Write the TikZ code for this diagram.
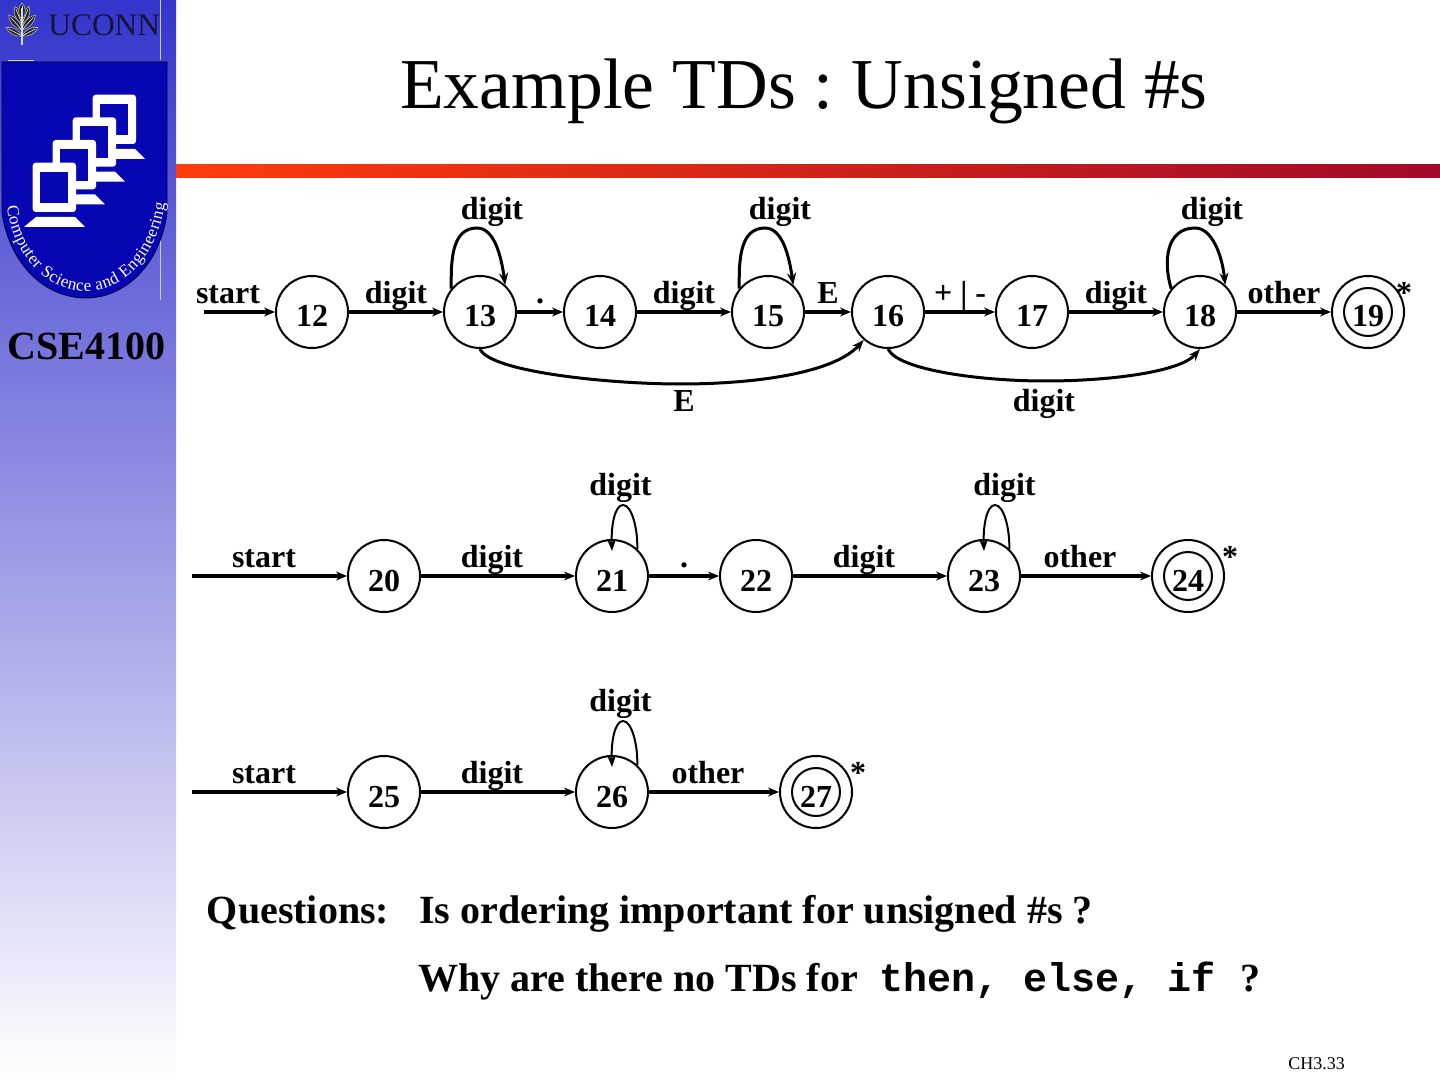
\documentclass[tikz,border=0pt]{standalone}
\usepackage{fontspec}
\setmainfont{Liberation Serif}
\setmonofont{Liberation Mono}
\usetikzlibrary{arrows.meta,decorations.text}
\definecolor{sidetop}{RGB}{52,52,204}
\definecolor{shieldblue}{RGB}{6,6,178}
\definecolor{barleft}{RGB}{255,60,12}
\definecolor{barright}{RGB}{160,10,40}
\definecolor{uconn}{RGB}{20,20,55}
\tikzset{
  x=.5pt,y=-.5pt,
  state/.style={circle,draw=black,line width=1pt,minimum size=36pt,inner sep=0pt,fill=white,
    font=\fontsize{16}{16}\selectfont\bfseries,text height=15pt,text depth=0pt},
  innerring/.style={circle,draw=black,line width=1pt,minimum size=24pt,inner sep=0pt},
  lab/.style={anchor=base,inner sep=0pt,font=\fontsize{16}{16}\selectfont\bfseries},
  trans/.style={line width=1.75pt,-{Stealth[length=5.5pt,width=4.5pt]}},
  curved/.style={line width=1.5pt,-{Stealth[length=6pt,width=4.5pt]}},
  thinloop/.style={line width=1pt,-{Stealth[length=6pt,width=4.5pt]}},
  para/.style={anchor=base west,inner sep=0pt,font=\fontsize{20}{20}\selectfont\bfseries},
  monoutline/.style={fill=white,rounded corners=1.5pt},
  monscreen/.style={fill=shieldblue},
  leaf/.style={fill=black!85,draw=white!70!black,line width=.3pt},
}
\newcommand{\monitorshape}[2]{%
  \begin{scope}[shift={(#1,#2)}]
    \fill[white] (36,217) -- (75,217) -- (85,227) -- (24,227) -- cycle;
    \fill[monoutline] (32.7,162.7) rectangle (76,212);
    \fill[monscreen] (40,171.7) rectangle (68.3,203.3);
  \end{scope}}
\newcommand{\leafshape}[4]{% base y, angle, length, half width
  \begin{scope}[shift={(22,#1)},rotate=#2]
    \draw[leaf] (0,0) .. controls (-#4,-.3*#3) and (-#4,-.75*#3) .. (0,-#3) .. controls (#4,-.75*#3) and (#4,-.3*#3) .. (0,0);
    \draw[white!85!black,line width=.35pt] (0,0) -- (0,-.85*#3);
  \end{scope}}
\begin{document}
\begin{tikzpicture}
\useasboundingbox (0,0) rectangle (1440,1080);
\fill[white] (0,0) rectangle (1440,1080);
% sidebar
\shade[top color=sidetop,bottom color=white] (0,0) rectangle (176,1080);
% bar
\shade[left color=barleft,right color=barright] (176,165) rectangle (1440,178);
% thin lines beside the logo
\draw[white!75!sidetop,line width=.4pt] (160.5,0) -- (160.5,60) (160.5,210) -- (160.5,300) (8,60.5) -- (34,60.5);
% emblem
\leafshape{36}{62}{18}{4}
\leafshape{36}{-62}{18}{4}
\leafshape{30}{42}{20}{4.5}
\leafshape{30}{-42}{20}{4.5}
\leafshape{24}{22}{19}{4.5}
\leafshape{24}{-22}{19}{4.5}
\leafshape{20}{0}{17}{4.5}
\draw[white!85!black,line width=.6pt] (22,8) -- (22,45);
\node[anchor=base west,inner sep=0pt,text=uconn,font=\fontsize{15.7}{16}\selectfont] (uconntext) at (48,36) {UCONN};
% shield
\fill[shieldblue] (2,62) -- (167,62) -- (167,213) .. controls (160,265) and (125,298) .. (86,298) .. controls (45,298) and (10,265) .. (2,213) -- cycle;
\draw[black!70!shieldblue,line width=.4pt] (2,62) -- (167,62) -- (167,213) .. controls (160,265) and (125,298) .. (86,298) .. controls (45,298) and (10,265) .. (2,213) -- cycle;
\monitorshape{60}{-68}
\monitorshape{40}{-45.3}
\monitorshape{20}{-22.7}
\monitorshape{0}{0}
\path[decorate,decoration={text along path,text align={fit to path},
  text={|\fontsize{8.5}{9}\selectfont\color{white}|Computer Science and Engineering}}]
  (7,206) .. controls (14,262) and (52,291) .. (86,291) .. controls (120,291) and (156,262) .. (165,203);
\node[anchor=base,inner sep=0pt,font=\fontsize{20}{20}\selectfont\bfseries] (course) at (86.5,360) {CSE4100};
% title
\node[anchor=base,inner sep=0pt,font=\fontsize{35.8}{36}\selectfont] (title) at (804,109) {Example TDs\hspace{9pt}:\hspace{9pt}Unsigned \#s};
% states row 1
\foreach \n/\xx in {12/312,13/480,14/600,15/768,16/888,17/1032,18/1200,19/1368}{\node[state] (n\n) at (\xx,312) {\n};}
% row 2
\foreach \n/\xx in {20/384,21/612,22/756,23/984,24/1188}{\node[state] (n\n) at (\xx,576) {\n};}
% row 3
\foreach \n/\xx in {25/384,26/612,27/816}{\node[state] (n\n) at (\xx,792) {\n};}
% accepting rings
\node[innerring] (r19) at (n19) {};
\node[innerring] (r24) at (n24) {};
\node[innerring] (r27) at (n27) {};
% start points
\coordinate (s1) at (204,312);
\coordinate (s2) at (192,576);
\coordinate (s3) at (192,792);
% straight transitions
\foreach \a/\b in {s1/n12,n12/n13,n13/n14,n14/n15,n15/n16,n16/n17,n17/n18,n18/n19,
  s2/n20,n20/n21,n21/n22,n22/n23,n23/n24,
  s3/n25,n25/n26,n26/n27}{\draw[trans] (\a) -- (\b);}
% self loops row 1
\draw[curved] (n13.141) .. controls (451,262) and (451,228) .. (477,228) .. controls (494,228) and (501,255) .. (n13.47);
\draw[curved] (n15.141) .. controls (739,262) and (739,228) .. (765,228) .. controls (782,228) and (789,255) .. (n15.47);
\draw[curved] (n18.141) .. controls (1163,262) and (1166,228) .. (1195,228) .. controls (1212,228) and (1222,255) .. (n18.47);
% self loops rows 2 and 3
\draw[thinloop] (n21.47) .. controls (638,530) and (632,505) .. (623,505) .. controls (615,505) and (611,525) .. ([yshift=12.5pt]n21.center);
\draw[thinloop] (n23.47) .. controls (1010,530) and (1004,505) .. (995,505) .. controls (987,505) and (983,525) .. ([yshift=12.5pt]n23.center);
\draw[thinloop] (n26.47) .. controls (638,746) and (632,721) .. (623,721) .. controls (615,721) and (611,741) .. ([yshift=12.5pt]n26.center);
% long arcs
\draw[curved] (n13.south) .. controls (490,372) and (610,384) .. (680,384) .. controls (760,384) and (835,372) .. (n16.229);
\draw[curved] (n16.south) .. controls (898,370) and (980,381) .. (1045,381) .. controls (1110,381) and (1180,372) .. (n18.south);
% labels row 1
\foreach \t/\xx in {start/228,digit/396,./540,digit/684,E/828,digit/1116,other/1284,*/1404}{\node[lab] at (\xx,304) {\t};}
\node[lab] (pm) at (960,304) {+ | -};
\foreach \xx in {492,780,1212}{\node[lab] at (\xx,220) {digit};}
\node[lab] (lE) at (684,412) {E};
\node[lab] (ld) at (1044,412) {digit};
% labels row 2
\foreach \t/\xx in {start/264,digit/492,./684,digit/864,other/1080,*/1230}{\node[lab] at (\xx,567.5) {\t};}
\foreach \xx in {620.5,1004.5}{\node[lab] at (\xx,495.5) {digit};}
% labels row 3
\foreach \t/\xx in {start/264,digit/492,other/708,*/858}{\node[lab] at (\xx,783.5) {\t};}
\node[lab] (l26) at (620.5,711.5) {digit};
% questions
\node[para] (q0) at (206.5,923) {Questions:};
\node[para] (q1) at (419,923) {Is ordering important for unsigned \#s ?};
\node[para] (q2) at (418,991) {Why are there no TDs for\hspace{11pt}{\ttfamily then, else, if }?};
\node[anchor=base west,inner sep=0pt,font=\fontsize{9}{9}\selectfont] (page) at (1288,1069) {CH3.33};
\end{tikzpicture}
\end{document}
